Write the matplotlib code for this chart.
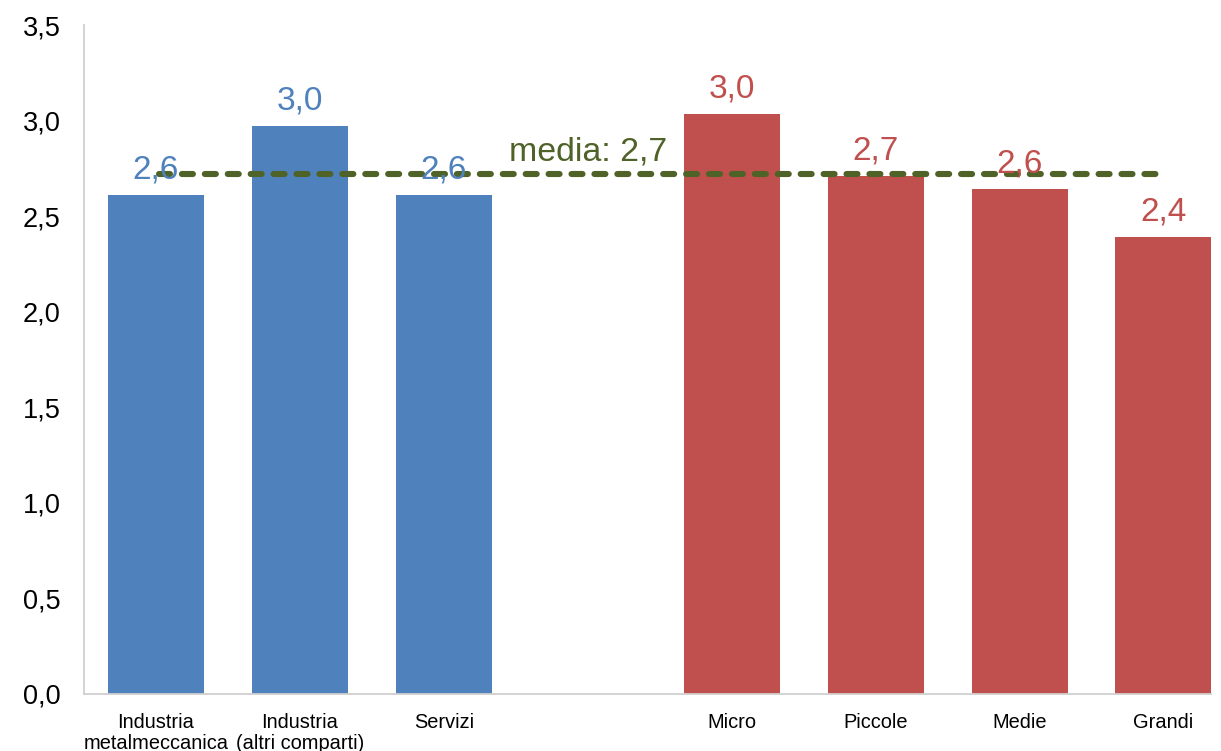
import numpy as np
import matplotlib
matplotlib.use("Agg")
import matplotlib.pyplot as plt

plt.rcParams['font.family'] = ['Liberation Sans', 'DejaVu Sans']

# data
categories = ["Industria\nmetalmeccanica", "Industria\n(altri comparti)", "Servizi", "",
              "Micro", "Piccole", "Medie", "Grandi"]
values = [2.61, 2.97, 2.61, np.nan, 3.035, 2.71, 2.64, 2.39]
labels = ["2,6", "3,0", "2,6", "", "3,0", "2,7", "2,6", "2,4"]
media = 2.72
media_label = "media: 2,7"
yticks = [0, 0.5, 1.0, 1.5, 2.0, 2.5, 3.0, 3.5]

blue = '#4F81BD'
red = '#C0504D'
green = '#4F6228'
colors = [blue, blue, blue, blue, red, red, red, red]

fig = plt.figure(figsize=(12.21, 7.51), dpi=100)
ax = fig.add_axes([0.0688, 0.0759, 0.923, 0.8908])

x = np.arange(len(categories))
ax.bar(x, values, width=0.667, color=colors, zorder=2)

for xi, v, lab, c in zip(x, values, labels, colors):
    if lab:
        ax.annotate(lab, (xi, v), xytext=(0, 7), textcoords='offset points',
                    ha='center', va='bottom', fontsize=24, color=c, zorder=4)

ax.plot([0.02, 6.98], [media, media], color=green, lw=4.4,
        dashes=(1.8, 1.95), dash_capstyle='round', zorder=3)
ax.annotate(media_label, (3, media), xytext=(0, 5), textcoords='offset points',
            ha='center', va='bottom', fontsize=24.4, color=green, zorder=4)

ax.set_xlim(-0.5, 7.33)
ax.set_ylim(0, 3.5)
ax.set_yticks(yticks)
ax.set_yticklabels([f"{t:.1f}".replace('.', ',') for t in yticks], fontsize=19.5)
ax.set_xticks(x)
ax.set_xticklabels(categories, fontsize=14.4, linespacing=1.1)
ax.tick_params(axis='y', length=0, pad=17)
ax.tick_params(axis='x', length=0, pad=14)

for s in ['top', 'right']:
    ax.spines[s].set_visible(False)
for s in ['left', 'bottom']:
    ax.spines[s].set_color('#D0D0D0')
    ax.spines[s].set_linewidth(1.3)

fig.savefig('out.png', dpi=100)
